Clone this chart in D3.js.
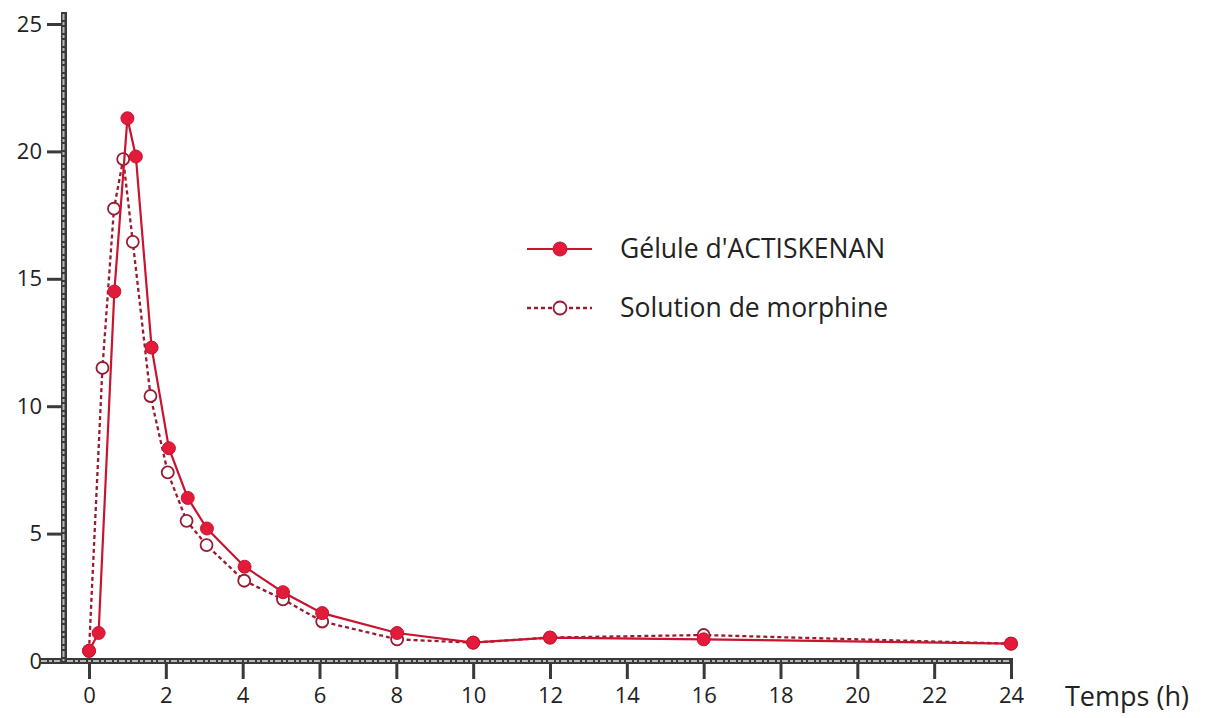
<!DOCTYPE html>
<html>
<head>
<meta charset="utf-8">
<script src="https://cdn.jsdelivr.net/npm/d3@7"></script>
<style>
  html, body { margin: 0; padding: 0; background: #ffffff; }
  svg { display: block; }
  text { font-family: "Open Sans", "DejaVu Sans", sans-serif; fill: #222; }
</style>
</head>
<body>
<svg id="chart" width="1210" height="718"></svg>
<script>
// ---- data ----
const timesGelule   = [0, 0.25, 0.66, 1.0, 1.22, 1.63, 2.08, 2.57, 3.07, 4.05, 5.05, 6.07, 8.02, 10, 12, 16, 24];
const valuesGelule  = [0.4, 1.1, 14.5, 21.3, 19.8, 12.3, 8.35, 6.4, 5.2, 3.7, 2.7, 1.88, 1.1, 0.72, 0.92, 0.85, 0.68];
const timesSolution = [0, 0.35, 0.65, 0.89, 1.14, 1.6, 2.05, 2.54, 3.06, 4.04, 5.05, 6.07, 8.02, 10, 12, 16, 24];
const valuesSolution= [0.4, 11.5, 17.75, 19.7, 16.45, 10.4, 7.4, 5.5, 4.55, 3.15, 2.42, 1.55, 0.85, 0.72, 0.92, 1.02, 0.68];
const seriesNames   = ["Gélule d'ACTISKENAN", "Solution de morphine"];
const yMajorTicks   = [0, 5, 10, 15, 20, 25];
const yMinorTicks   = [2.5, 7.5, 12.5, 17.5, 22.5];
const xMajorTicks   = [0, 2, 4, 6, 8, 10, 12, 14, 16, 18, 20, 22, 24];
const xMinorTicks   = [1, 3, 5, 7, 9, 11, 13, 15, 17, 19, 21, 23];
const xAxisTitle    = "Temps (h)";

const gelule = timesGelule.map((t, i) => ({ t, v: valuesGelule[i] }));
const solution = timesSolution.map((t, i) => ({ t, v: valuesSolution[i] }));

const svg = d3.select("#chart");
const x = d3.scaleLinear().domain([0, 24]).range([89, 1011]);
const y = d3.scaleLinear().domain([0, 25]).range([661, 24]);

const axisX0 = 64;   // y axis position
const axisY0 = y(0); // x axis position

const AXIS_DARK = "#3a3a3a";
const AXIS_LIGHT = "#b8b8b8";

// ---- Y axis ----
const gy = svg.append("g").attr("transform", `translate(${axisX0},0)`);
gy.call(d3.axisLeft(y).tickValues(yMinorTicks).tickSize(11).tickFormat(""))
  .call(g => g.select(".domain").remove());
gy.call(d3.axisLeft(y).tickValues(yMajorTicks).tickSize(17).tickPadding(5).tickFormat(d3.format("d")))
  .call(g => g.select(".domain").remove());
gy.selectAll(".tick line").attr("stroke", AXIS_DARK).attr("stroke-width", 3);
gy.selectAll(".tick text").style("font-size", "22px").attr("fill", "#2a2a2a");

// ---- X axis ----
const gx = svg.append("g").attr("transform", `translate(0,${axisY0})`);
gx.call(d3.axisBottom(x).tickValues(xMinorTicks).tickSize(10).tickFormat(""))
  .call(g => g.select(".domain").remove());
gx.call(d3.axisBottom(x).tickValues(xMajorTicks).tickSize(18).tickPadding(8).tickFormat(d3.format("d")))
  .call(g => g.select(".domain").remove());
gx.selectAll(".tick line").attr("stroke", AXIS_DARK).attr("stroke-width", 3);
gx.selectAll(".tick text").style("font-size", "22px").attr("fill", "#2a2a2a");

// axis bands (scanned-looking thick lines)
svg.append("line")
  .attr("x1", 40).attr("x2", x(24) + 2).attr("y1", axisY0).attr("y2", axisY0)
  .attr("stroke", AXIS_DARK).attr("stroke-width", 6);
svg.append("line")
  .attr("x1", 41).attr("x2", x(24)).attr("y1", axisY0).attr("y2", axisY0)
  .attr("stroke", AXIS_LIGHT).attr("stroke-width", 2).attr("stroke-dasharray", "6,2,3,2");
svg.append("line")
  .attr("x1", axisX0).attr("x2", axisX0).attr("y1", y(25) - 12).attr("y2", axisY0 + 3)
  .attr("stroke", AXIS_DARK).attr("stroke-width", 6);
svg.append("line")
  .attr("x1", axisX0 - 0.5).attr("x2", axisX0 - 0.5).attr("y1", y(25) - 10).attr("y2", axisY0)
  .attr("stroke", AXIS_LIGHT).attr("stroke-width", 2).attr("stroke-dasharray", "6,2,3,2");

// x axis title
svg.append("text")
  .attr("x", 1065).attr("y", 706)
  .style("font-size", "27px")
  .attr("fill", "#222")
  .text(xAxisTitle);

// ---- series ----
const line = d3.line().x(d => x(d.t)).y(d => y(d.v));

const SOLID = "#c8142f";
const FILL = "#e31b3b";
const DASH = "#9a1a30";

svg.append("path").datum(solution)
  .attr("d", line).attr("fill", "none")
  .attr("stroke", DASH).attr("stroke-width", 2.3).attr("stroke-dasharray", "4,3");

svg.append("g").selectAll("circle").data(solution).join("circle")
  .attr("cx", d => x(d.t)).attr("cy", d => y(d.v)).attr("r", 6)
  .attr("fill", "#fff").attr("stroke", DASH).attr("stroke-width", 1.8);

svg.append("path").datum(gelule)
  .attr("d", line).attr("fill", "none")
  .attr("stroke", SOLID).attr("stroke-width", 2.2);

svg.append("g").selectAll("circle").data(gelule).join("circle")
  .attr("cx", d => x(d.t)).attr("cy", d => y(d.v)).attr("r", 6.5)
  .attr("fill", FILL).attr("stroke", SOLID).attr("stroke-width", 1);

// ---- legend ----
const legend = svg.append("g");
const leg = [
  { name: seriesNames[0], y: 249, dashed: false },
  { name: seriesNames[1], y: 308, dashed: true }
];
leg.forEach(l => {
  legend.append("line")
    .attr("x1", 527).attr("x2", 592).attr("y1", l.y).attr("y2", l.y)
    .attr("stroke", l.dashed ? DASH : SOLID).attr("stroke-width", l.dashed ? 2.3 : 2.2)
    .attr("stroke-dasharray", l.dashed ? "4,3" : null);
  legend.append("circle")
    .attr("cx", 560).attr("cy", l.y).attr("r", l.dashed ? 6.5 : 7)
    .attr("fill", l.dashed ? "#fff" : FILL)
    .attr("stroke", l.dashed ? DASH : SOLID).attr("stroke-width", l.dashed ? 1.8 : 1);
  legend.append("text")
    .attr("x", 620).attr("y", l.y + 9)
    .style("font-size", "26.5px").attr("fill", "#222")
    .text(l.name);
});
</script>
</body>
</html>
